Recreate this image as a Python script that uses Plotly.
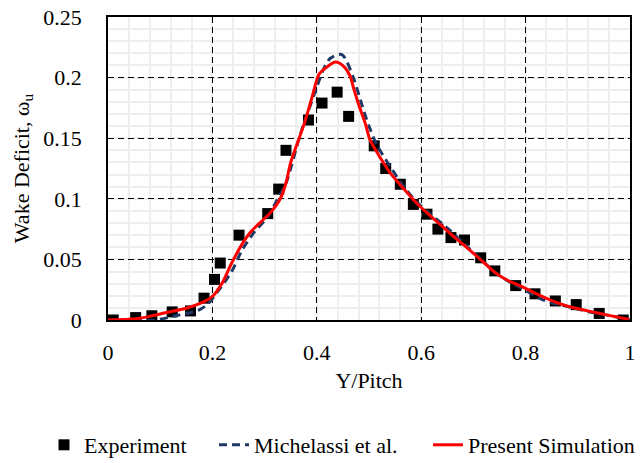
import plotly.graph_objects as go

# Experiment data
exp_x = [0.010, 0.053, 0.084, 0.123, 0.158, 0.184, 0.204, 0.215, 0.251, 0.306, 0.327, 0.341,
         0.384, 0.410, 0.439, 0.461, 0.510, 0.532, 0.560, 0.585, 0.611, 0.632, 0.657, 0.683,
         0.714, 0.741, 0.781, 0.818, 0.857, 0.897, 0.941, 0.987]
exp_y = [0.000, 0.002, 0.0035, 0.0067, 0.0075, 0.018, 0.0335, 0.047, 0.070, 0.0878, 0.108, 0.140,
         0.165, 0.179, 0.188, 0.168, 0.1437, 0.125, 0.112, 0.0954, 0.0873, 0.075, 0.068, 0.066,
         0.0513, 0.0405, 0.0284, 0.0216, 0.0157, 0.0127, 0.0054, 0.000]

# Michelassi et al.
mic_x = [0.0, 0.05, 0.09, 0.135, 0.173, 0.192, 0.211, 0.237, 0.256, 0.281, 0.306, 0.325, 0.341,
         0.369, 0.395, 0.414, 0.426, 0.448, 0.470, 0.486, 0.499, 0.515, 0.540, 0.565, 0.590,
         0.616, 0.654, 0.692, 0.717, 0.742, 0.767, 0.793, 0.837, 0.881, 0.919, 0.957, 1.0]
mic_y = [0.0, 0.0, 0.0, 0.004, 0.008, 0.0135, 0.024, 0.040, 0.057, 0.073, 0.085, 0.100, 0.113,
         0.154, 0.186, 0.208, 0.216, 0.219, 0.200, 0.178, 0.161, 0.1445, 0.127, 0.111, 0.098,
         0.088, 0.0743, 0.059, 0.049, 0.039, 0.032, 0.026, 0.016, 0.011, 0.007, 0.004, 0.0]

# Present Simulation
sim_x = [0.0, 0.053, 0.08, 0.11, 0.148, 0.173, 0.199, 0.218, 0.237, 0.256, 0.274, 0.293, 0.312,
         0.330, 0.341, 0.350, 0.376, 0.391, 0.404, 0.420, 0.436, 0.452, 0.464, 0.470, 0.480,
         0.493, 0.502, 0.518, 0.534, 0.540, 0.565, 0.590, 0.616, 0.641, 0.666, 0.692, 0.717,
         0.742, 0.767, 0.793, 0.818, 0.85, 0.881, 0.919, 0.957, 0.998]
sim_y = [0.0, 0.001, 0.003, 0.006, 0.0095, 0.013, 0.019, 0.030, 0.047, 0.062, 0.073, 0.081, 0.089,
         0.100, 0.113, 0.130, 0.162, 0.184, 0.2026, 0.209, 0.2128, 0.209, 0.201, 0.192, 0.178,
         0.162, 0.1486, 0.1364, 0.1256, 0.1216, 0.109, 0.097, 0.0865, 0.077, 0.0675, 0.058, 0.0486,
         0.039, 0.0324, 0.0276, 0.0221, 0.016, 0.0113, 0.0075, 0.004, 0.0005]

x_ticks = [0, 0.2, 0.4, 0.6, 0.8, 1]
x_labels = ["0", "0.2", "0.4", "0.6", "0.8", "1"]
y_ticks = [0, 0.05, 0.1, 0.15, 0.2, 0.25]
y_labels = ["0", "0.05", "0.1", "0.15", "0.2", "0.25"]

FONT = "Liberation Serif"
FS = 22

fig = go.Figure()
fig.add_trace(go.Scatter(x=exp_x, y=exp_y, mode="markers", name="Experiment", legend="legend",
                         marker=dict(symbol="square", size=11, color="black")))
fig.add_trace(go.Scatter(x=mic_x, y=mic_y, mode="lines", name="Michelassi et al.", legend="legend2",
                         line=dict(color="#1F3864", width=3, dash="8px,5px", shape="spline", smoothing=0.8)))
fig.add_trace(go.Scatter(x=sim_x, y=sim_y, mode="lines", name="Present Simulation", legend="legend3",
                         line=dict(color="#FF0000", width=3, shape="spline", smoothing=0.8)))

axis_common = dict(
    showline=True, linecolor="black", linewidth=1.5, mirror=True,
    showgrid=True, gridcolor="black", gridwidth=1.2, griddash="6px,4px",
    zeroline=False, ticks="", ticklabeloverflow="allow",
    tickfont=dict(family=FONT, size=FS, color="black"),
)

fig.update_xaxes(range=[0, 1], tickvals=x_ticks, ticktext=x_labels, ticklabelstandoff=12,
                 title=dict(text="Y/Pitch", font=dict(family=FONT, size=FS, color="black"), standoff=8),
                 minor=dict(dtick=0.04, tick0=0, showgrid=True, gridcolor="#eeeeee", gridwidth=2, griddash="solid"),
                 **axis_common)
fig.update_yaxes(range=[0, 0.25], tickvals=y_ticks, ticktext=y_labels, ticklabelstandoff=20,
                 title=dict(text="Wake Deficit, ω<sub>u</sub>", font=dict(family=FONT, size=FS, color="black"), standoff=8),
                 minor=dict(dtick=0.01, tick0=0, showgrid=True, gridcolor="#eeeeee", gridwidth=2, griddash="solid"),
                 **axis_common)

def leg(x_px):
    return dict(orientation="h", xref="container", x=x_px / 641, xanchor="left",
                yref="container", y=18 / 463, yanchor="middle", bgcolor="rgba(0,0,0,0)",
                font=dict(family=FONT, size=FS, color="black"), itemwidth=30)

fig.update_layout(
    width=641, height=463,
    margin=dict(l=108, r=5, t=12, b=143),
    plot_bgcolor="white", paper_bgcolor="white",
    font=dict(family=FONT, color="black"),
    legend=leg(44), legend2=leg(214), legend3=leg(428),
    showlegend=True,
)

fig.write_html("out.html")
